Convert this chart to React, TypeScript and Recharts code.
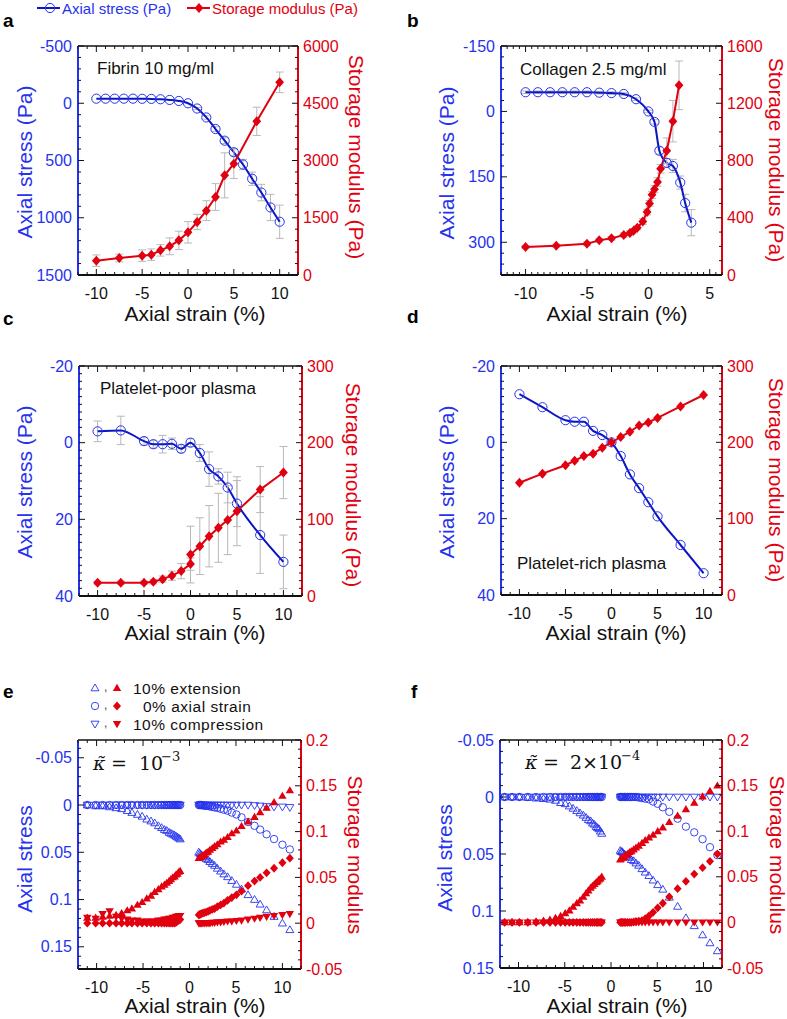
import React from "react";
import { ComposedChart, Line, XAxis, YAxis, ErrorBar, ReferenceLine } from "recharts";

const FONT = '"Liberation Sans", Arial, Helvetica, sans-serif';
const SERIF = '"DejaVu Serif", "Liberation Serif", serif';
const BLUE = "#2633ee";
const BLUE_LINE = "#0b16c2";
const RED = "#e1000f";
const GREY = "#b8b8b8";
const INK = "#111111";

// a: fibrin 10 mg/ml
const aStrain = [-10, -9, -8, -7, -6, -5, -4, -3, -2, -1, 0, 1, 2, 3, 4, 5, 6, 7, 8, 9, 10];
const aStress = [-40, -40, -40, -40, -40, -39, -38, -35, -29, -20, 0, 46, 124, 225, 327, 428, 535, 659, 780, 910, 1035];
const aStressErr = [0, 0, 0, 0, 0, 0, 0, 0, 0, 0, 0, 10, 15, 20, 25, 30, 45, 58, 72, 115, 145];
const aModStrain = [-10, -7.5, -5, -4, -3, -2, -1, 0, 1, 2, 3, 4, 5, 7.5, 10];
const aMod = [376, 445, 507, 533, 646, 751, 908, 1118, 1389, 1686, 2044, 2611, 2917, 4026, 5048];
const aModErr = [150, 100, 150, 150, 150, 220, 240, 280, 200, 260, 350, 590, 390, 370, 270];

// b: collagen 2.5 mg/ml
const bStrain = [-10, -9, -8, -7, -6, -5, -4, -3, -2, -1, 0, 0.5, 0.9, 1.5, 2, 2.6, 3, 3.5];
const bStress = [-44, -44, -44, -44, -44, -44, -43, -42, -40, -28, 0, 24, 90, 118, 125, 163, 210, 255];
const bStressErr = [3, 3, 3, 3, 3, 3, 3, 3, 3, 3, 3, 5, 8, 10, 15, 15, 20, 30];
const bModStrain = [-10, -7.5, -5, -4, -3, -2, -1.5, -1.2, -0.9, -0.45, -0.1, 0.1, 0.3, 0.5, 0.75, 1.0, 1.5, 2.0, 2.5];
const bMod = [195, 205, 219, 242, 256, 279, 293, 309, 330, 374, 440, 500, 560, 600, 650, 742, 868, 1075, 1325];
const bModErr = [10, 10, 12, 12, 12, 15, 15, 15, 15, 20, 20, 20, 25, 25, 30, 30, 90, 145, 170];

// c: platelet-poor plasma
const cStrain = [-10, -7.5, -5, -4, -3, -2, -1, 0, 1, 2, 3, 4, 5, 7.5, 10];
const cStress = [-2.95, -3.2, -0.4, 0.4, 0.4, 0.3, 1.6, 0, 2.7, 6.9, 8.8, 11.7, 15.9, 24.1, 31.1];
const cStressErr = [2.7, 3.7, 1, 1, 2.3, 1.5, 1, 1, 2.2, 4.5, 2, 4, 6, 10, 7];
const cModStrain = [-10, -7.5, -5, -4, -3, -2, -1, 0, 0, 1, 2, 3, 4, 5, 7.5, 10];
const cMod = [17.4, 17.4, 17.4, 18.7, 22, 26.5, 32.5, 41.6, 54, 65, 78, 89, 99, 110.6, 138.8, 161];
const cModErr = [2, 2, 2, 3, 4, 6, 10, 8, 37, 37, 40, 45, 45, 45, 30, 34];

// d: platelet-rich plasma
const dStrain = [-10, -7.5, -5, -4, -3, -2, -1, 0, 1, 2, 3, 4, 5, 7.5, 10];
const dStress = [-12.6, -9.2, -5.8, -5.4, -5.4, -3.0, -1.9, 0, 3.6, 8.4, 12.0, 15.7, 19.4, 26.9, 34.3];
const dMod = [147, 159, 170, 176, 182, 185, 193, 200, 207, 214, 222, 226, 232, 247, 262];

// e: kappa = 1e-3 (simulation)
const eNeg = [-11.0, -10.1, -9.35, -8.6, -7.9, -7.3, -6.7, -6.2, -5.6, -5.1, -4.6, -4.15, -3.75, -3.35, -3.0, -2.7, -2.45, -2.2, -2.0, -1.8, -1.6, -1.45, -1.3, -1.15, -1.0];
const ePos = [1.0, 1.1, 1.2, 1.3, 1.45, 1.6, 1.8, 2.0, 2.2, 2.45, 2.7, 3.0, 3.35, 3.7, 4.1, 4.55, 5.05, 5.6, 6.3, 7.0, 7.6, 8.3, 9.1, 10.0, 10.8];
const eStressExtL = [0, 0.001, 0.001, 0.002, 0.003, 0.004, 0.006, 0.008, 0.01, 0.012, 0.015, 0.017, 0.019, 0.022, 0.024, 0.026, 0.027, 0.029, 0.03, 0.031, 0.032, 0.033, 0.034, 0.035, 0.036];
const eStressZeroL = [0, 0, 0, 0, 0, 0, 0, 0, 0, 0, 0, 0, 0, 0, 0, 0, 0, 0, 0, 0, 0, 0, 0, 0, 0];
const eStressCompL = [0, 0, 0, 0, 0, 0, 0, 0, 0, 0, 0, 0, 0, 0, 0, 0, 0, 0, 0, 0, 0, 0, 0, 0, 0];
const eStressExtR = [0.05, 0.051, 0.052, 0.053, 0.054, 0.055, 0.057, 0.058, 0.06, 0.062, 0.064, 0.067, 0.07, 0.073, 0.076, 0.08, 0.084, 0.089, 0.095, 0.1, 0.105, 0.111, 0.118, 0.125, 0.132];
const eStressZeroR = [0, 0, 0, 0, 0.0005, 0.0005, 0.001, 0.001, 0.0015, 0.002, 0.0025, 0.003, 0.004, 0.005, 0.006, 0.008, 0.01, 0.013, 0.018, 0.022, 0.026, 0.031, 0.036, 0.042, 0.047];
const eStressCompR = [0, 0, 0, 0, 0, 0, 0, 0, 0, 0, 0, 0, 0, 0, 0, 0, 0, 0, 0, 0.0005, 0.001, 0.0015, 0.002, 0.002, 0.0025];
const eModExtL = [0.006, 0.006, 0.007, 0.008, 0.009, 0.011, 0.014, 0.016, 0.02, 0.023, 0.027, 0.03, 0.034, 0.037, 0.04, 0.042, 0.044, 0.046, 0.048, 0.05, 0.051, 0.053, 0.054, 0.056, 0.057];
const eModZeroL = [0, 0, 0, 0, 0, 0, 0, 0, 0, 0, 0, 0, 0, 0, 0, 0, 0, 0, 0, 0, 0, 0.001, 0.002, 0.003, 0.004];
const eModCompL = [0.006, 0.005, 0.01, 0.013, 0.007, 0.005, 0.004, 0.003, 0.003, 0.002, 0.002, 0.002, 0.002, 0.003, 0.003, 0.004, 0.004, 0.005, 0.005, 0.006, 0.006, 0.007, 0.007, 0.008, 0.008];
const eModExtR = [0.071, 0.072, 0.072, 0.073, 0.074, 0.075, 0.077, 0.078, 0.08, 0.082, 0.084, 0.086, 0.089, 0.091, 0.094, 0.098, 0.101, 0.106, 0.111, 0.116, 0.121, 0.126, 0.132, 0.139, 0.145];
const eModZeroR = [0.009, 0.0095, 0.01, 0.0105, 0.011, 0.0115, 0.012, 0.013, 0.014, 0.015, 0.016, 0.018, 0.02, 0.022, 0.025, 0.028, 0.031, 0.035, 0.041, 0.046, 0.05, 0.055, 0.06, 0.066, 0.071];
const eModCompR = [0, 0, 0, 0, 0, 0, 0, 0, 0, 0.0005, 0.0005, 0.001, 0.001, 0.0015, 0.002, 0.002, 0.0025, 0.003, 0.004, 0.005, 0.006, 0.007, 0.008, 0.009, 0.01];

// f: kappa = 2e-4 (simulation)
const fNeg = [-11.5, -10.7, -9.9, -9.0, -8.1, -7.3, -6.6, -6.0, -5.45, -4.95, -4.5, -4.1, -3.7, -3.35, -3.0, -2.7, -2.45, -2.2, -2.0, -1.8, -1.6, -1.45, -1.3, -1.15, -1.0];
const fPos = [1.0, 1.1, 1.2, 1.3, 1.45, 1.6, 1.8, 2.0, 2.2, 2.45, 2.7, 3.0, 3.35, 3.7, 4.1, 4.55, 5.05, 5.6, 6.3, 7.2, 8.1, 9.0, 9.9, 10.7, 11.5];
const fStressExtL = [0, 0, 0, 0.0005, 0.001, 0.0015, 0.002, 0.003, 0.005, 0.006, 0.008, 0.01, 0.012, 0.014, 0.016, 0.018, 0.02, 0.021, 0.023, 0.024, 0.026, 0.027, 0.028, 0.03, 0.032];
const fStressZeroL = [0, 0, 0, 0, 0, 0, 0, 0, 0, 0, 0, 0, 0, 0, 0, 0, 0, 0, 0, 0, 0, 0, 0, 0, 0];
const fStressCompL = [0, 0, 0, 0, 0, 0, 0, 0, 0, 0, 0, 0, 0, 0, 0, 0, 0, 0, 0, 0, 0, 0, 0, 0, 0];
const fStressExtR = [0.047, 0.048, 0.048, 0.049, 0.05, 0.051, 0.052, 0.053, 0.055, 0.056, 0.058, 0.06, 0.063, 0.066, 0.069, 0.073, 0.077, 0.081, 0.088, 0.096, 0.106, 0.113, 0.121, 0.128, 0.135];
const fStressZeroR = [0, 0, 0, 0, 0, 0, 0, 0, 0, 0, 0, 0.0005, 0.001, 0.0015, 0.002, 0.004, 0.006, 0.009, 0.013, 0.019, 0.026, 0.031, 0.037, 0.044, 0.051];
const fStressCompR = [0, 0, 0, 0, 0, 0, 0, 0, 0, 0, 0, 0, 0, 0, 0, 0, 0, 0, 0, 0, 0, 0, 0, 0, 0];
const fModExtL = [0, 0, 0, 0, 0.001, 0.002, 0.003, 0.005, 0.007, 0.01, 0.013, 0.017, 0.021, 0.024, 0.028, 0.032, 0.035, 0.038, 0.04, 0.042, 0.044, 0.045, 0.047, 0.048, 0.05];
const fModZeroL = [0, 0, 0, 0, 0, 0, 0, 0, 0, 0, 0, 0, 0, 0, 0, 0, 0, 0, 0, 0, 0, 0, 0, 0, 0];
const fModCompL = [0, 0, 0, 0, 0, 0, 0, 0, 0, 0, 0, 0, 0, 0, 0, 0, 0, 0, 0, 0, 0, 0, 0, 0, 0];
const fModExtR = [0.069, 0.07, 0.071, 0.071, 0.072, 0.074, 0.075, 0.077, 0.078, 0.08, 0.082, 0.084, 0.087, 0.09, 0.093, 0.096, 0.1, 0.104, 0.11, 0.117, 0.124, 0.131, 0.138, 0.144, 0.15];
const fModZeroR = [0, 0, 0, 0, 0, 0, 0, 0, 0, 0.0005, 0.001, 0.0015, 0.002, 0.004, 0.007, 0.011, 0.016, 0.021, 0.028, 0.037, 0.045, 0.053, 0.06, 0.067, 0.075];
const fModCompR = [0, 0, 0, 0, 0, 0, 0, 0, 0, 0, 0, 0, 0, 0, 0, 0, 0, 0, 0, 0, 0, 0, 0, 0, 0];

// axis tick labels
const strainTicks = [-10, -5, 0, 5, 10];
const strainTicksB = [-10, -5, 0, 5];
const aStressTicks = [-500, 0, 500, 1000, 1500];
const aModTicks = [0, 1500, 3000, 4500, 6000];
const bStressTicks = [-150, 0, 150, 300];
const bModTicks = [0, 400, 800, 1200, 1600];
const plasmaStressTicks = [-20, 0, 20, 40];
const plasmaModTicks = [0, 100, 200, 300];
const simStressTicks = [-0.05, 0, 0.05, 0.1, 0.15];
const simModTicks = [-0.05, 0, 0.05, 0.1, 0.15, 0.2];

const YW = 70;
const MT = 12;
const XH = 40;

type Box = { x0: number; y0: number; x1: number; y1: number };
type Spec = { domain: [number, number]; major: number[]; step: number };

const pts = (xs: number[], ys: number[], es?: number[]) =>
  xs.map((x, i) => ({ x, y: ys[i], e: es ? es[i] : 0 }));
const both = (xn: number[], yn: number[], xp: number[], yp: number[]) => [...pts(xn, yn), ...pts(xp, yp)];

function minorTicks(s: Spec) {
  const out: number[] = [];
  const start = Math.ceil(s.domain[0] / s.step - 1e-9);
  for (let k = start; k * s.step <= s.domain[1] + 1e-9; k++) out.push(Math.round(k * s.step * 1e6) / 1e6);
  return out;
}

const tri = (cx: number, cy: number, s: number, down: boolean) =>
  down
    ? `${cx - s},${cy - s * 0.7} ${cx + s},${cy - s * 0.7} ${cx},${cy + s}`
    : `${cx},${cy - s} ${cx + s},${cy + s * 0.7} ${cx - s},${cy + s * 0.7}`;
const dia = (cx: number, cy: number, w: number, h: number) => `${cx},${cy - h} ${cx + w},${cy} ${cx},${cy + h} ${cx - w},${cy}`;

function Mark({ kind, cx, cy }: { kind: string; cx: number; cy: number }) {
  switch (kind) {
    case "circle":
      return <circle cx={cx} cy={cy} r={4.6} fill="none" stroke={BLUE} strokeWidth={1} />;
    case "diamond":
      return <polygon points={dia(cx, cy, 4.4, 5)} fill={RED} />;
    case "sCircle":
      return <circle cx={cx} cy={cy} r={3.7} fill="none" stroke={BLUE} strokeWidth={0.9} />;
    case "sUp":
      return <polygon points={tri(cx, cy, 4, false)} fill="none" stroke={BLUE} strokeWidth={0.9} />;
    case "sDown":
      return <polygon points={tri(cx, cy, 4, true)} fill="none" stroke={BLUE} strokeWidth={0.9} />;
    case "rUp":
      return <polygon points={tri(cx, cy, 4.2, false)} fill={RED} />;
    case "rDown":
      return <polygon points={tri(cx, cy, 4.2, true)} fill={RED} />;
    default:
      return <polygon points={dia(cx, cy, 4, 4.4)} fill={RED} />;
  }
}

const dotOf = (kind: string) => (p: any) =>
  p.cx == null || p.cy == null ? <g key={`n${p.index}`} /> : <Mark key={`m${p.index}`} kind={kind} cx={p.cx} cy={p.cy} />;

function Panel({ box, x, left, right, children }: { box: Box; x: Spec; left: Spec; right: Spec; children: React.ReactNode }) {
  const pw = box.x1 - box.x0;
  const ph = box.y1 - box.y0;
  const pl = YW;
  const pr = YW + pw;
  const pt = MT;
  const pb = MT + ph;
  const find = (v: number, s: Spec) => s.major.find((m) => Math.abs(m - v) < 1e-9);

  const xTick = (p: any) => {
    const m = find(p.payload.value, x);
    const len = m !== undefined ? 6 : 3;
    return (
      <g>
        <line x1={p.x} x2={p.x} y1={pb} y2={pb - len} stroke={INK} />
        <line x1={p.x} x2={p.x} y1={pt} y2={pt + len} stroke={INK} />
        {m !== undefined && (
          <text x={p.x} y={pb + 18} textAnchor="middle" dominantBaseline="central" fontSize={16} fontFamily={FONT} fill={INK}>
            {String(m)}
          </text>
        )}
      </g>
    );
  };
  const lTick = (p: any) => {
    const m = find(p.payload.value, left);
    const len = m !== undefined ? 6 : 3;
    return (
      <g>
        <line x1={pl} x2={pl + len} y1={p.y} y2={p.y} stroke={INK} />
        {m !== undefined && (
          <text x={pl - 6} y={p.y} textAnchor="end" dominantBaseline="central" fontSize={16} fontFamily={FONT} fill={BLUE}>
            {String(m)}
          </text>
        )}
      </g>
    );
  };
  const rTick = (p: any) => {
    const m = find(p.payload.value, right);
    const len = m !== undefined ? 6 : 3;
    return (
      <g>
        <line x1={pr} x2={pr - len} y1={p.y} y2={p.y} stroke={INK} />
        {m !== undefined && (
          <text x={pr + 5} y={p.y} textAnchor="start" dominantBaseline="central" fontSize={16} fontFamily={FONT} fill={RED}>
            {String(m)}
          </text>
        )}
      </g>
    );
  };

  return (
    <div style={{ position: "absolute", left: box.x0 - YW, top: box.y0 - MT }}>
      <ComposedChart width={pw + 2 * YW} height={ph + MT + XH} margin={{ top: MT, right: 0, bottom: 0, left: 0 }}>
        <XAxis
          xAxisId="x"
          dataKey="x"
          type="number"
          domain={x.domain}
          ticks={minorTicks(x)}
          interval={0}
          allowDataOverflow
          height={XH}
          axisLine={{ stroke: INK, strokeWidth: 2 }}
          tickLine={false}
          tick={xTick}
        />
        <YAxis
          yAxisId="L"
          type="number"
          reversed
          domain={left.domain}
          ticks={minorTicks(left)}
          interval={0}
          allowDataOverflow
          width={YW}
          axisLine={{ stroke: BLUE, strokeWidth: 2 }}
          tickLine={false}
          tick={lTick}
        />
        <YAxis
          yAxisId="R"
          orientation="right"
          type="number"
          domain={right.domain}
          ticks={minorTicks(right)}
          interval={0}
          allowDataOverflow
          width={YW}
          axisLine={{ stroke: RED, strokeWidth: 2 }}
          tickLine={false}
          tick={rTick}
        />
        <ReferenceLine xAxisId="x" yAxisId="R" y={right.domain[1]} stroke={INK} strokeWidth={1.5} />
        {children}
      </ComposedChart>
    </div>
  );
}

const errBar = <ErrorBar dataKey="e" direction="y" width={4} stroke={GREY} strokeWidth={1} isAnimationActive={false} />;

function SimSeries(neg: number[], pos: number[], s: number[][], m: number[][]) {
  const blue = ["sUp", "sCircle", "sDown"];
  const red = ["rUp", "rDiamond", "rDown"];
  return [
    ...blue.map((k, i) => (
      <Line key={`b${i}`} xAxisId="x" yAxisId="L" data={both(neg, s[i * 2], pos, s[i * 2 + 1])} dataKey="y" stroke="none" dot={dotOf(k)} activeDot={false} isAnimationActive={false} />
    )),
    ...red.map((k, i) => (
      <Line key={`r${i}`} xAxisId="x" yAxisId="R" data={both(neg, m[i * 2], pos, m[i * 2 + 1])} dataKey="y" stroke="none" dot={dotOf(k)} activeDot={false} isAnimationActive={false} />
    )),
  ];
}

function TitleText({ x, y, text, color, rot }: { x: number; y: number; text: string; color: string; rot?: number }) {
  return (
    <text
      x={x}
      y={y}
      transform={rot ? `rotate(${rot} ${x} ${y})` : undefined}
      textAnchor="middle"
      dominantBaseline="central"
      fontSize={21}
      fontFamily={FONT}
      fill={color}
    >
      {text}
    </text>
  );
}

function Letter({ x, y, t }: { x: number; y: number; t: string }) {
  return (
    <text x={x} y={y} fontSize={19} fontWeight="bold" fontFamily={FONT} fill="#000">
      {t}
    </text>
  );
}

function Inset({ x, y, t }: { x: number; y: number; t: string }) {
  return (
    <text x={x} y={y} dominantBaseline="central" fontSize={17} fontFamily={FONT} fill={INK}>
      {t}
    </text>
  );
}

function LegendRow({ y, blue, red, x, t }: { y: number; blue: string; red: string; x: number; t: string }) {
  return (
    <g>
      <Mark kind={blue} cx={95} cy={y} />
      <text x={104} y={y + 3} fontSize={12} fontFamily={FONT} fill="#444">,</text>
      <Mark kind={red} cx={117} cy={y} />
      <text x={x} y={y} dominantBaseline="central" fontSize={15.5} letterSpacing={0.5} fontFamily={FONT} fill={INK}>
        {t}
      </text>
    </g>
  );
}

export default function App() {
  const plasmaL: Spec = { domain: [-20, 40], major: plasmaStressTicks, step: 2 };
  const plasmaR: Spec = { domain: [0, 300], major: plasmaModTicks, step: 10 };
  const xFull: Spec = { domain: [-12, 12], major: strainTicks, step: 1 };
  const simR: Spec = { domain: [-0.05, 0.2], major: simModTicks, step: 0.01 };

  return (
    <div style={{ position: "absolute", left: 0, top: 0, width: 787, height: 1019, background: "#fff", overflow: "hidden" }}>
      {/* a */}
      <Panel
        box={{ x0: 78, y0: 46, x1: 298, y1: 275 }}
        x={xFull}
        left={{ domain: [-500, 1500], major: aStressTicks, step: 100 }}
        right={{ domain: [0, 6000], major: aModTicks, step: 300 }}
      >
        <Line xAxisId="x" yAxisId="L" data={pts(aStrain, aStress, aStressErr)} dataKey="y" type="monotone" stroke={BLUE_LINE} strokeWidth={2} dot={dotOf("circle")} activeDot={false} isAnimationActive={false}>
          {errBar}
        </Line>
        <Line xAxisId="x" yAxisId="R" data={pts(aModStrain, aMod, aModErr)} dataKey="y" type="linear" stroke={RED} strokeWidth={2} dot={dotOf("diamond")} activeDot={false} isAnimationActive={false}>
          {errBar}
        </Line>
      </Panel>

      {/* b */}
      <Panel
        box={{ x0: 501, y0: 46, x1: 722, y1: 275 }}
        x={{ domain: [-12, 6], major: strainTicksB, step: 0.5 }}
        left={{ domain: [-150, 375], major: bStressTicks, step: 25 }}
        right={{ domain: [0, 1600], major: bModTicks, step: 100 }}
      >
        <Line xAxisId="x" yAxisId="L" data={pts(bStrain, bStress, bStressErr)} dataKey="y" type="monotone" stroke={BLUE_LINE} strokeWidth={2} dot={dotOf("circle")} activeDot={false} isAnimationActive={false}>
          {errBar}
        </Line>
        <Line xAxisId="x" yAxisId="R" data={pts(bModStrain, bMod, bModErr)} dataKey="y" type="linear" stroke={RED} strokeWidth={2} dot={dotOf("diamond")} activeDot={false} isAnimationActive={false}>
          {errBar}
        </Line>
      </Panel>

      {/* c */}
      <Panel box={{ x0: 79, y0: 366, x1: 302, y1: 596 }} x={xFull} left={plasmaL} right={plasmaR}>
        <Line xAxisId="x" yAxisId="L" data={pts(cStrain, cStress, cStressErr)} dataKey="y" type="monotone" stroke={BLUE_LINE} strokeWidth={2} dot={dotOf("circle")} activeDot={false} isAnimationActive={false}>
          {errBar}
        </Line>
        <Line xAxisId="x" yAxisId="R" data={pts(cModStrain, cMod, cModErr)} dataKey="y" type="linear" stroke={RED} strokeWidth={2} dot={dotOf("diamond")} activeDot={false} isAnimationActive={false}>
          {errBar}
        </Line>
      </Panel>

      {/* d */}
      <Panel box={{ x0: 501, y0: 366, x1: 722, y1: 595 }} x={xFull} left={plasmaL} right={plasmaR}>
        <Line xAxisId="x" yAxisId="L" data={pts(dStrain, dStress)} dataKey="y" type="monotone" stroke={BLUE_LINE} strokeWidth={2} dot={dotOf("circle")} activeDot={false} isAnimationActive={false} />
        <Line xAxisId="x" yAxisId="R" data={pts(dStrain, dMod)} dataKey="y" type="linear" stroke={RED} strokeWidth={2} dot={dotOf("diamond")} activeDot={false} isAnimationActive={false} />
      </Panel>

      {/* e */}
      <Panel box={{ x0: 78, y0: 740, x1: 301, y1: 969 }} x={xFull} left={{ domain: [-0.0688, 0.1735], major: simStressTicks, step: 0.01 }} right={simR}>
        {SimSeries(
          eNeg,
          ePos,
          [eStressExtL, eStressExtR, eStressZeroL, eStressZeroR, eStressCompL, eStressCompR],
          [eModExtL, eModExtR, eModZeroL, eModZeroR, eModCompL, eModCompR]
        )}
      </Panel>

      {/* f */}
      <Panel box={{ x0: 500, y0: 740, x1: 722, y1: 968 }} x={xFull} left={{ domain: [-0.05, 0.15], major: simStressTicks, step: 0.01 }} right={simR}>
        {SimSeries(
          fNeg,
          fPos,
          [fStressExtL, fStressExtR, fStressZeroL, fStressZeroR, fStressCompL, fStressCompR],
          [fModExtL, fModExtR, fModZeroL, fModZeroR, fModCompL, fModCompR]
        )}
      </Panel>

      <svg width={787} height={1019} style={{ position: "absolute", left: 0, top: 0, pointerEvents: "none" }}>
        {/* top legend */}
        <line x1={37} x2={60} y1={8} y2={8} stroke={BLUE_LINE} strokeWidth={2} />
        <Mark kind="circle" cx={50} cy={8} />
        <text x={62} y={8} dominantBaseline="central" fontSize={15} fontFamily={FONT} fill={BLUE}>
          Axial stress (Pa)
        </text>
        <line x1={187} x2={210} y1={8} y2={8} stroke={RED} strokeWidth={2} />
        <Mark kind="diamond" cx={199} cy={8} />
        <text x={212} y={8} dominantBaseline="central" fontSize={15} fontFamily={FONT} fill={RED}>
          Storage modulus (Pa)
        </text>

        <Letter x={3} y={27} t="a" />
        <Letter x={407} y={27} t="b" />
        <Letter x={3} y={325} t="c" />
        <Letter x={407} y={323} t="d" />
        <Letter x={3} y={698} t="e" />
        <Letter x={411} y={698} t="f" />

        <Inset x={97} y={68} t="Fibrin 10 mg/ml" />
        <Inset x={520} y={69} t="Collagen 2.5 mg/ml" />
        <Inset x={100} y={388} t="Platelet-poor plasma" />
        <Inset x={517} y={563} t="Platelet-rich plasma" />

        <TitleText x={24} y={162} rot={-90} color={BLUE} text="Axial stress (Pa)" />
        <TitleText x={356} y={157} rot={90} color={RED} text="Storage modulus (Pa)" />
        <TitleText x={195} y={313} color={INK} text="Axial strain (%)" />
        <TitleText x={446} y={163} rot={-90} color={BLUE} text="Axial stress (Pa)" />
        <TitleText x={776} y={160} rot={90} color={RED} text="Storage modulus (Pa)" />
        <TitleText x={617} y={313} color={INK} text="Axial strain (%)" />
        <TitleText x={24} y={482} rot={-90} color={BLUE} text="Axial stress (Pa)" />
        <TitleText x={353} y={485} rot={90} color={RED} text="Storage modulus (Pa)" />
        <TitleText x={195} y={632} color={INK} text="Axial strain (%)" />
        <TitleText x={446} y={482} rot={-90} color={BLUE} text="Axial stress (Pa)" />
        <TitleText x={776} y={480} rot={90} color={RED} text="Storage modulus (Pa)" />
        <TitleText x={616} y={632} color={INK} text="Axial strain (%)" />
        <TitleText x={24} y={859} rot={-90} color={BLUE} text="Axial stress" />
        <TitleText x={355} y={855} rot={90} color={RED} text="Storage modulus" />
        <TitleText x={195} y={1005} color={INK} text="Axial strain (%)" />
        <TitleText x={444} y={858} rot={-90} color={BLUE} text="Axial stress" />
        <TitleText x={777} y={855} rot={90} color={RED} text="Storage modulus" />
        <TitleText x={617} y={1005} color={INK} text="Axial strain (%)" />

        {/* e legend */}
        <LegendRow y={688} blue="sUp" red="rUp" x={133} t="10% extension" />
        <LegendRow y={706} blue="sCircle" red="rDiamond" x={143} t="0% axial strain" />
        <LegendRow y={724} blue="sDown" red="rDown" x={133} t="10% compression" />

        {/* kappa labels */}
        <text y={770} fontSize={19} fontFamily={SERIF} fill={INK}>
          <tspan x={93} fontStyle="italic">κ̃</tspan>
          <tspan x={111}>=</tspan>
          <tspan x={139}>10</tspan>
          <tspan x={161} dy={-9} fontSize={13}>−3</tspan>
        </text>
        <text y={769} fontSize={19} fontFamily={SERIF} fill={INK}>
          <tspan x={525} fontStyle="italic">κ̃</tspan>
          <tspan x={543}>=</tspan>
          <tspan x={570}>2×10</tspan>
          <tspan x={621} dy={-9} fontSize={13}>−4</tspan>
        </text>
      </svg>
    </div>
  );
}
